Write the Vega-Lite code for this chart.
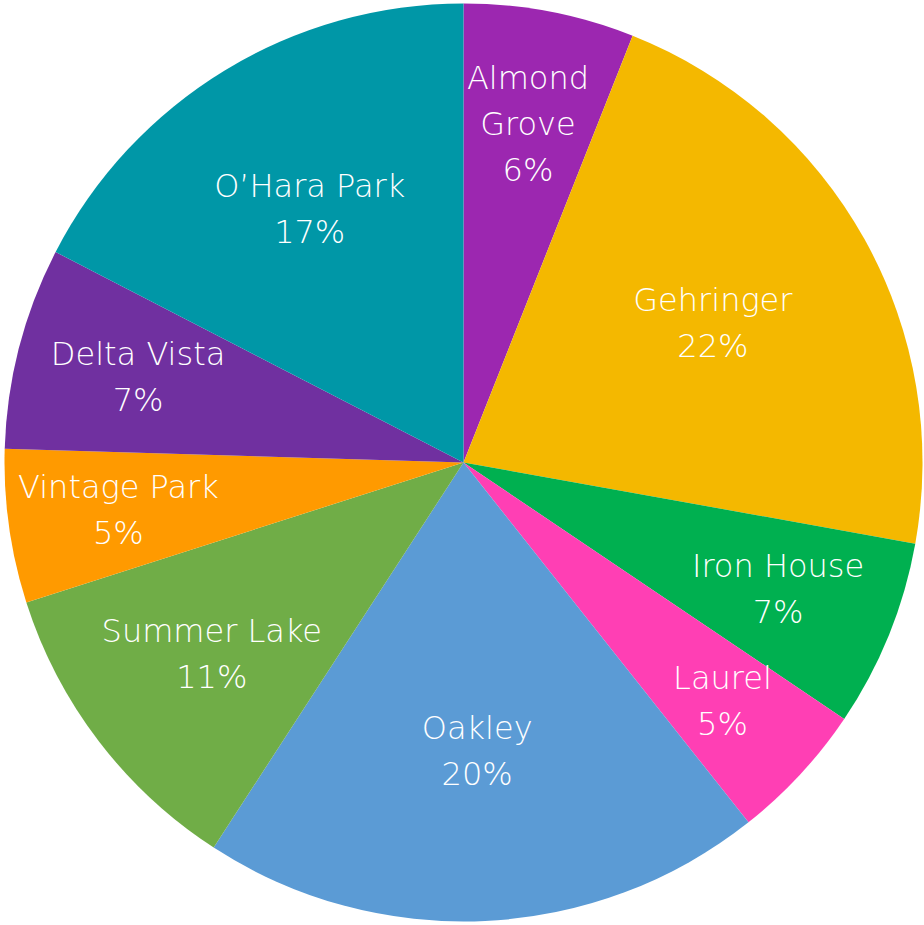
{
  "$schema": "https://vega.github.io/schema/vega-lite/v6.json",
  "width": 924,
  "height": 925,
  "autosize": {"type": "fit", "contains": "padding"},
  "padding": {"left": 3, "right": 0, "top": 0, "bottom": 0},
  "background": "white",
  "view": {"stroke": null},
  "data": {
    "values": [
      {"name": "Almond\nGrove", "key": "Almond Grove", "order": 1, "value": 6.0},
      {"name": "Gehringer", "key": "Gehringer", "order": 2, "value": 21.8},
      {"name": "Iron House", "key": "Iron House", "order": 3, "value": 6.6},
      {"name": "Laurel", "key": "Laurel", "order": 4, "value": 4.9},
      {"name": "Oakley", "key": "Oakley", "order": 5, "value": 19.8},
      {"name": "Summer Lake", "key": "Summer Lake", "order": 6, "value": 10.9},
      {"name": "Vintage Park", "key": "Vintage Park", "order": 7, "value": 5.4},
      {"name": "Delta Vista", "key": "Delta Vista", "order": 8, "value": 7.1},
      {"name": "O’Hara Park", "key": "O’Hara Park", "order": 9, "value": 17.4}
    ]
  },
  "transform": [
    {"joinaggregate": [{"op": "sum", "field": "value", "as": "total"}]},
    {"calculate": "datum.name + '\\n' + format(datum.value / datum.total, '.0%')", "as": "label"}
  ],
  "encoding": {
    "theta": {"field": "value", "type": "quantitative", "stack": true},
    "order": {"field": "order", "type": "quantitative"},
    "color": {
      "field": "key",
      "type": "nominal",
      "sort": ["Almond Grove", "Gehringer", "Iron House", "Laurel", "Oakley", "Summer Lake", "Vintage Park", "Delta Vista", "O’Hara Park"],
      "scale": {
        "domain": ["Almond Grove", "Gehringer", "Iron House", "Laurel", "Oakley", "Summer Lake", "Vintage Park", "Delta Vista", "O’Hara Park"],
        "range": ["#9C27B0", "#F4B800", "#00B050", "#FF3FB4", "#5B9BD5", "#70AD47", "#FF9A00", "#7030A0", "#0097A7"]
      },
      "legend": null
    }
  },
  "layer": [
    {"mark": {"type": "arc", "outerRadius": 459, "stroke": null}},
    {
      "mark": {
        "type": "text", "fill": "white", "font": "DejaVu Sans", "fontSize": 32, "fontWeight": 200,
        "lineBreak": "\n", "lineHeight": 46, "baseline": "middle", "align": "center",
        "dy": {"expr": "-(length(split(datum.label, '\\n')) - 1) * 23"}
      },
      "encoding": {
        "text": {"field": "label"},
        "color": {"value": "white"},
        "radius": {
          "field": "value",
          "type": "quantitative",
          "scale": {"type": "log", "zero": false, "domain": [5, 22], "range": [352, 285]}
        }
      }
    }
  ]
}
